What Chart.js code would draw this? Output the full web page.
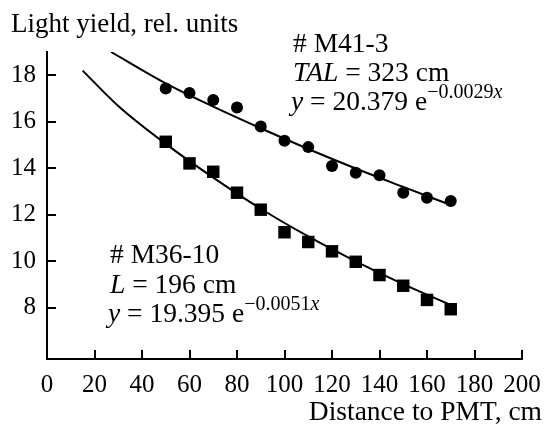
<!DOCTYPE html>
<html lang="en">
<head>
  <meta charset="UTF-8">
  <title>Light yield vs distance to PMT</title>
  <script src="https://cdn.jsdelivr.net/npm/chart.js"></script>
  <style>
    body {
      background-color: #ffffff;
      margin: 0;
      padding: 0;
    }
    canvas {
      display: block;
    }
  </style>
</head>
<body>

<canvas id="yieldChart" width="544" height="425"></canvas>

<script>
  // Measured light yield for two fibres, every 10 cm from the PMT
  const distance = [50, 60, 70, 80, 90, 100, 110, 120, 130, 140, 150, 160, 170];
  const yieldM41 = [17.43, 17.24, 16.94, 16.61, 15.8, 15.18, 14.91, 14.1, 13.81, 13.7, 12.95, 12.73, 12.59];
  const yieldM36 = [15.14, 14.21, 13.85, 12.95, 12.22, 11.25, 10.83, 10.43, 9.98, 9.41, 8.95, 8.34, 7.94];

  // Exponential fit curves, sampled along the drawn lines
  const fitM41X = [27, 50, 70, 90, 110, 130, 150, 170];
  const fitM41Y = [19.0, 17.65, 16.65, 15.72, 14.83, 13.99, 13.2, 12.42];
  const fitM36X = [15, 30, 50, 70, 90, 110, 130, 150, 170];
  const fitM36Y = [18.2, 16.68, 15.05, 13.6, 12.26, 11.07, 10.0, 9.02, 8.12];

  const yTicks = [8, 10, 12, 14, 16, 18];

  const serif = "'Liberation Serif', 'DejaVu Serif', serif";

  const toPoints = (xs, ys) => xs.map((x, i) => ({ x, y: ys[i] }));

  // draw a line of text made of pieces with their own style / size / shift
  function drawRich(ctx, x, y, parts) {
    let cx = x;
    for (const p of parts) {
      ctx.font = (p.italic ? 'italic ' : '') + p.size + 'px ' + serif;
      ctx.fillText(p.text, cx, y - (p.rise || 0));
      cx += ctx.measureText(p.text).width;
    }
  }

  const labelsPlugin = {
    id: 'labels',
    afterDraw(chart) {
      const ctx = chart.ctx;
      ctx.save();
      ctx.fillStyle = '#000';
      ctx.textBaseline = 'alphabetic';

      ctx.textAlign = 'left';
      ctx.font = '27px ' + serif;
      ctx.fillText('Light yield, rel. units', 11, 32);

      ctx.textAlign = 'right';
      ctx.font = '27.5px ' + serif;
      ctx.fillText('Distance to PMT, cm', 542, 420);

      ctx.textAlign = 'left';
      const s = 27.5, sup = 20;
      drawRich(ctx, 293, 52, [{ text: '# M41-3', size: s }]);
      drawRich(ctx, 293, 81, [
        { text: 'TAL', size: s, italic: true },
        { text: ' = 323 cm', size: s }
      ]);
      drawRich(ctx, 291, 110, [
        { text: 'y', size: s, italic: true },
        { text: ' = 20.379 e', size: s },
        { text: '\u22120.0029', size: sup, rise: 12 },
        { text: 'x', size: sup, italic: true, rise: 12 }
      ]);

      drawRich(ctx, 110, 263, [{ text: '# M36-10', size: s }]);
      drawRich(ctx, 110, 293, [
        { text: 'L', size: s, italic: true },
        { text: ' = 196 cm', size: s }
      ]);
      drawRich(ctx, 108, 322, [
        { text: 'y', size: s, italic: true },
        { text: ' = 19.395 e', size: s },
        { text: '\u22120.0051', size: sup, rise: 12 },
        { text: 'x', size: sup, italic: true, rise: 12 }
      ]);
      ctx.restore();
    }
  };

  new Chart(document.getElementById('yieldChart').getContext('2d'), {
    type: 'scatter',
    data: {
      datasets: [
        {
          label: '# M41-3',
          data: toPoints(distance, yieldM41),
          pointStyle: 'circle',
          pointRadius: 6,
          backgroundColor: '#000',
          borderColor: '#000',
          borderWidth: 0
        },
        {
          label: '# M36-10',
          data: toPoints(distance, yieldM36),
          pointStyle: 'rect',
          pointRadius: 8.8,
          backgroundColor: '#000',
          borderColor: '#000',
          borderWidth: 0
        },
        {
          label: 'fit M41-3',
          data: toPoints(fitM41X, fitM41Y),
          showLine: true,
          pointRadius: 0,
          borderColor: '#000',
          borderWidth: 2,
          cubicInterpolationMode: 'monotone'
        },
        {
          label: 'fit M36-10',
          data: toPoints(fitM36X, fitM36Y),
          showLine: true,
          pointRadius: 0,
          borderColor: '#000',
          borderWidth: 2,
          cubicInterpolationMode: 'monotone'
        }
      ]
    },
    options: {
      responsive: false,
      animation: false,
      layout: { padding: { top: 52, right: 22, bottom: 0, left: 0 } },
      plugins: {
        legend: { display: false },
        tooltip: { enabled: false }
      },
      scales: {
        x: {
          type: 'linear',
          min: 0,
          max: 200,
          ticks: {
            stepSize: 20,
            color: '#000',
            padding: 20,
            maxRotation: 0,
            font: { family: serif, size: 25 }
          },
          grid: { drawOnChartArea: false, tickLength: -9, color: '#000', lineWidth: 2 },
          border: { color: '#000', width: 2 },
          afterFit(scale) {
            scale.height = 66;
            scale.paddingLeft = 0;
            scale.paddingRight = 0;
          }
        },
        y: {
          min: 5.8,
          max: 19,
          afterBuildTicks(scale) {
            scale.ticks = yTicks.map(v => ({ value: v }));
          },
          ticks: {
            color: '#000',
            padding: 20,
            font: { family: serif, size: 25 }
          },
          grid: { drawOnChartArea: false, tickLength: -9, color: '#000', lineWidth: 2 },
          border: { color: '#000', width: 2 },
          afterFit(scale) {
            scale.width = 47;
            scale.paddingTop = 0;
            scale.paddingBottom = 0;
          }
        }
      }
    },
    plugins: [labelsPlugin]
  });
</script>

</body>
</html>
